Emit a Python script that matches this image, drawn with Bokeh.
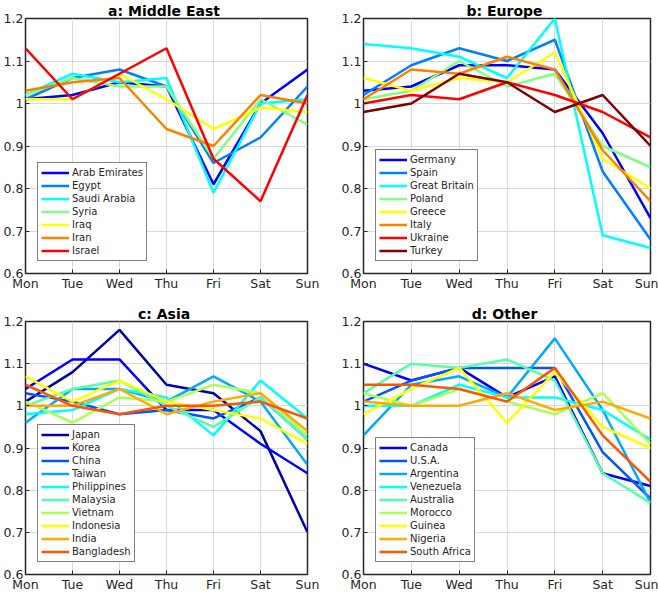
from bokeh.plotting import figure
from bokeh.layouts import gridplot
from bokeh.models import Range1d, FixedTicker, CustomJSTickFormatter, Legend
from bokeh.embed import file_html
from bokeh.resources import INLINE

days = ["Mon", "Tue", "Wed", "Thu", "Fri", "Sat", "Sun"]
y_ticks = [0.6, 0.7, 0.8, 0.9, 1.0, 1.1, 1.2]

# Panel a: Middle East
me_names = ["Arab Emirates", "Egypt", "Saudi Arabia", "Syria", "Iraq", "Iran", "Israel"]
me_colors = ["#0000ff", "#0080ff", "#00ffff", "#80ff80", "#ffff00", "#ff8000", "#ff0000"]
me_arab_emirates = [1.01, 1.02, 1.05, 1.04, 0.81, 1.00, 1.08]
me_egypt = [1.01, 1.06, 1.08, 1.04, 0.86, 0.92, 1.04]
me_saudi_arabia = [1.02, 1.07, 1.05, 1.06, 0.79, 1.00, 1.01]
me_syria = [1.02, 1.06, 1.04, 1.04, 0.87, 1.01, 0.95]
me_iraq = [1.01, 1.01, 1.07, 1.01, 0.94, 0.99, 0.98]
me_iran = [1.03, 1.05, 1.06, 0.94, 0.90, 1.02, 1.00]
me_israel = [1.13, 1.01, 1.07, 1.13, 0.87, 0.77, 1.02]

# Panel b: Europe
eu_names = ["Germany", "Spain", "Great Britain", "Poland", "Greece", "Italy", "Ukraine", "Turkey"]
eu_colors = ["#0000ff", "#0080ff", "#00ffff", "#80ff80", "#ffff00", "#ff8000", "#ff0000", "#800000"]
eu_germany = [1.03, 1.04, 1.09, 1.09, 1.08, 0.93, 0.73]
eu_spain = [1.02, 1.09, 1.13, 1.10, 1.15, 0.84, 0.68]
eu_great_britain = [1.14, 1.13, 1.11, 1.06, 1.20, 0.69, 0.66]
eu_poland = [1.01, 1.03, 1.10, 1.04, 1.07, 0.90, 0.85]
eu_greece = [1.06, 1.03, 1.06, 1.05, 1.12, 0.87, 0.80]
eu_italy = [1.01, 1.08, 1.07, 1.11, 1.08, 0.89, 0.77]
eu_ukraine = [1.00, 1.02, 1.01, 1.05, 1.02, 0.98, 0.92]
eu_turkey = [0.98, 1.00, 1.07, 1.05, 0.98, 1.02, 0.90]

# Panel c: Asia
as_names = ["Japan", "Korea", "China", "Taiwan", "Philippines", "Malaysia", "Vietnam",
            "Indonesia", "India", "Bangladesh"]
as_colors = ["#0000aa", "#0000ff", "#0055ff", "#00aaff", "#00ffff", "#55ffaa", "#aaff55",
             "#ffff00", "#ffaa00", "#ff5500"]
as_japan = [1.01, 1.08, 1.18, 1.05, 1.03, 0.94, 0.70]
as_korea = [1.04, 1.11, 1.11, 0.99, 0.99, 0.91, 0.84]
as_china = [1.03, 1.01, 0.98, 0.99, 0.97, 1.02, 0.92]
as_taiwan = [0.96, 1.04, 1.04, 1.01, 1.07, 1.01, 0.86]
as_philippines = [0.98, 0.99, 1.04, 1.02, 0.93, 1.06, 0.97]
as_malaysia = [1.00, 1.04, 1.06, 1.00, 0.95, 1.02, 0.92]
as_vietnam = [1.01, 0.96, 1.02, 1.01, 1.05, 1.03, 0.93]
as_indonesia = [1.07, 1.01, 1.06, 1.01, 0.99, 0.97, 0.91]
as_india = [1.00, 1.00, 1.04, 0.98, 1.01, 1.03, 0.94]
as_bangladesh = [1.05, 1.00, 0.98, 1.00, 1.00, 1.01, 0.97]

# Panel d: Other
ot_names = ["Canada", "U.S.A.", "Argentina", "Venezuela", "Australia", "Morocco", "Guinea",
            "Nigeria", "South Africa"]
ot_colors = ["#0000ff", "#0055ff", "#00aaff", "#00ffff", "#55ffaa", "#aaff55", "#ffff00",
             "#ffaa00", "#ff5500"]
ot_canada = [1.10, 1.06, 1.09, 1.02, 1.07, 0.84, 0.81]
ot_usa = [1.01, 1.06, 1.09, 1.09, 1.09, 0.89, 0.78]
ot_argentina = [0.93, 1.05, 1.07, 1.02, 1.16, 0.99, 0.77]
ot_venezuela = [1.00, 1.00, 1.05, 1.02, 1.02, 0.99, 0.92]
ot_australia = [1.03, 1.10, 1.09, 1.11, 1.06, 0.84, 0.77]
ot_morocco = [1.03, 1.00, 1.04, 1.01, 0.98, 1.03, 0.91]
ot_guinea = [0.98, 1.04, 1.09, 0.96, 1.08, 0.95, 0.90]
ot_nigeria = [1.01, 1.00, 1.00, 1.03, 0.99, 1.01, 0.97]
ot_south_africa = [1.05, 1.05, 1.04, 1.01, 1.09, 0.93, 0.82]

panels = [
    ("a:  Middle East", me_names, me_colors,
     [me_arab_emirates, me_egypt, me_saudi_arabia, me_syria, me_iraq, me_iran, me_israel]),
    ("b:  Europe", eu_names, eu_colors,
     [eu_germany, eu_spain, eu_great_britain, eu_poland, eu_greece, eu_italy, eu_ukraine, eu_turkey]),
    ("c:  Asia", as_names, as_colors,
     [as_japan, as_korea, as_china, as_taiwan, as_philippines, as_malaysia, as_vietnam,
      as_indonesia, as_india, as_bangladesh]),
    ("d:  Other", ot_names, ot_colors,
     [ot_canada, ot_usa, ot_argentina, ot_venezuela, ot_australia, ot_morocco, ot_guinea,
      ot_nigeria, ot_south_africa]),
]

FONT = "DejaVu Sans"
INK = "#262626"

# (width, height, border_left, border_right, border_bottom)
geom = [
    (338, 303, 25, 31, 30),
    (320, 303, 25, 8, 30),
    (338, 291, 25, 31, 18),
    (320, 291, 25, 8, 18),
]

figs = []
for (title, names, colors, series), (w, h, bl, br, bb) in zip(panels, geom):
    p = figure(width=w, height=h, output_backend="svg", toolbar_location=None,
               x_range=Range1d(0, 6), y_range=Range1d(0.6, 1.2),
               min_border_left=bl, min_border_right=br, min_border_bottom=bb,
               min_border_top=0, title=title)
    p.title.align = "center"
    p.title.text_font = FONT
    p.title.text_font_size = "14px"
    p.title.text_font_style = "bold"
    p.title.text_color = "#000000"
    p.title.standoff = 0
    p.title.offset = 0

    xs = list(range(len(days)))
    renderers = []
    for name, color, vals in zip(names, colors, series):
        r = p.line(xs, vals, line_color=color, line_width=2.5)
        renderers.append((name, [r]))

    p.xaxis.ticker = FixedTicker(ticks=xs)
    p.xaxis.major_label_overrides = {i: d for i, d in enumerate(days)}
    p.yaxis.ticker = FixedTicker(ticks=y_ticks)
    p.yaxis.formatter = CustomJSTickFormatter(
        code="return tick.toFixed(1).replace(/\\.0$/, '');")
    for ax in (p.xaxis[0], p.yaxis[0]):
        ax.axis_line_color = None
        ax.major_tick_in = 4
        ax.major_tick_out = 0
        ax.minor_tick_line_color = None
        ax.major_tick_line_color = INK
        ax.major_tick_line_width = 1
        ax.major_label_text_font = FONT
        ax.major_label_text_font_size = "12.5px"
        ax.major_label_text_color = INK
        ax.major_label_standoff = 2
    p.grid.grid_line_color = "#d9d9d9"
    p.grid.grid_line_width = 1
    p.outline_line_color = INK
    p.outline_line_width = 1.5
    p.background_fill_color = "white"
    p.border_fill_color = "white"

    legend = Legend(items=renderers, location="bottom_left")
    legend.label_text_font = FONT
    legend.label_text_font_size = "10px"
    legend.label_text_color = INK
    legend.glyph_width = 28
    legend.glyph_height = 13
    legend.label_height = 13
    legend.label_standoff = 3
    legend.spacing = 0
    legend.padding = 3
    legend.margin = 12
    legend.border_line_color = "#000000"
    legend.border_line_width = 1.5
    legend.background_fill_color = "white"
    legend.background_fill_alpha = 1
    p.add_layout(legend)
    figs.append(p)

grid = gridplot([[figs[0], figs[1]], [figs[2], figs[3]]], toolbar_location=None)

open("out.html", "w").write(file_html(grid, INLINE))
